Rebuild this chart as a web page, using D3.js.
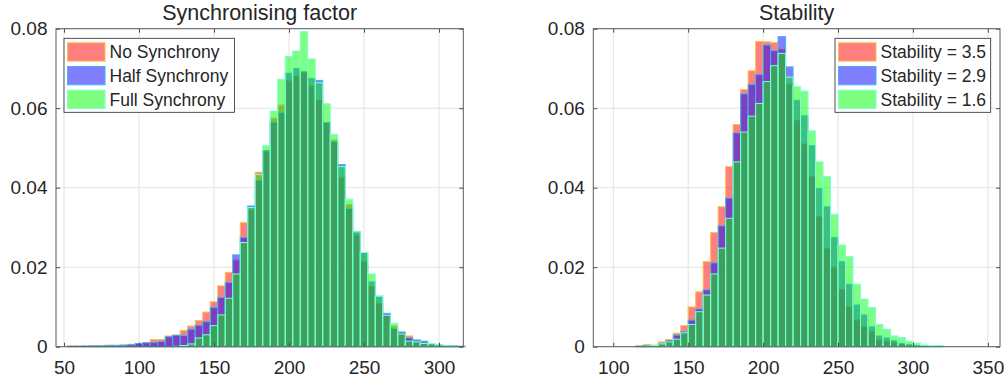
<!DOCTYPE html>
<html lang="en">
<head>
<meta charset="UTF-8">
<title>Histograms</title>
<script src="https://cdn.jsdelivr.net/npm/d3@7"></script>
<style>
  body { margin: 0; background: #fff; }
  text { font-family: "Liberation Sans", Arial, Helvetica, sans-serif; fill: #262626; }
</style>
</head>
<body>
<svg id="chart" width="1006" height="381"></svg>
<script>
// ---- data (probability per 5-unit bin) ----
var syncBinStart = [52.5,57.5,62.5,67.5,72.5,77.5,82.5,87.5,92.5,97.5,102.5,107.5,112.5,117.5,122.5,127.5,132.5,137.5,142.5,147.5,152.5,157.5,162.5,167.5,172.5,177.5,182.5,187.5,192.5,197.5,202.5,207.5,212.5,217.5,222.5,227.5,232.5,237.5,242.5,247.5,252.5,257.5,262.5,267.5,272.5,277.5,282.5,287.5,292.5,297.5,302.5,307.5,312.5];
var noSync   = [.0002,.0002,.0001,.0003,.0002,.0004,.0004,.0004,.0006,.0008,.0010,.0018,.0018,.0027,.0029,.0041,.0052,.0066,.0087,.0113,.0153,.0187,.0218,.0312,.0344,.0439,.0493,.0575,.0608,.0669,.0681,.0690,.0656,.0620,.0564,.0520,.0425,.0358,.0281,.0214,.0151,.0109,.0079,.0052,.0034,.0027,.0012,.0009,.0006,.0004,.0002,.0001,.0001];
var halfSync = [.0001,.0001,.0002,.0002,.0002,.0003,.0003,.0004,.0005,.0008,.0010,.0011,.0013,.0025,.0029,.0028,.0044,.0054,.0063,.0099,.0124,.0162,.0231,.0275,.0354,.0419,.0493,.0565,.0589,.0688,.0700,.0692,.0675,.0670,.0564,.0516,.0458,.0348,.0289,.0237,.0163,.0127,.0084,.0046,.0037,.0022,.0017,.0014,.0006,.0004,.0002,.0002,.0001];
var fullSync = [0,0,0,0,0,0,0,0,0,0,0,0,0,0,.0001,.0003,.0007,.0022,.0030,.0053,.0080,.0122,.0183,.0262,.0350,.0433,.0506,.0593,.0673,.0730,.0744,.0793,.0724,.0664,.0611,.0534,.0453,.0371,.0289,.0237,.0183,.0127,.0079,.0059,.0032,.0014,.0012,.0008,.0008,.0005,.0002,.0001,0];

var stabBinStart = [115,120,125,130,135,140,145,150,155,160,165,170,175,180,185,190,195,200,205,210,215,220,225,230,235,240,245,250,255,260,265,270,275,280,285,290,295,300,305,310,315];
var stab35 = [.0002,.0005,.0004,.0012,.0018,.0034,.0053,.0100,.0138,.0214,.0287,.0352,.0453,.0559,.0647,.0694,.0768,.0767,.0765,.0748,.0661,.0570,.0510,.0428,.0327,.0247,.0200,.0144,.0100,.0067,.0050,.0038,.0017,.0014,.0010,.0008,.0004,.0002,.0001,0,0];
var stab29 = [.0001,.0003,.0003,.0008,.0015,.0029,.0038,.0067,.0095,.0143,.0211,.0304,.0374,.0538,.0636,.0660,.0685,.0759,.0745,.0780,.0704,.0620,.0581,.0506,.0398,.0352,.0275,.0214,.0157,.0105,.0080,.0050,.0027,.0022,.0015,.0008,.0005,.0003,.0002,.0001,.0001];
var stab16 = [0,.0001,.0003,.0007,.0012,.0019,.0035,.0056,.0088,.0130,.0183,.0248,.0323,.0465,.0540,.0580,.0612,.0667,.0707,.0738,.0678,.0654,.0643,.0543,.0465,.0428,.0333,.0256,.0227,.0157,.0120,.0099,.0056,.0044,.0027,.0023,.0013,.0009,.0004,.0002,.0003];

var binWidth = 5;
var syncTicks = [50, 100, 150, 200, 250, 300];
var stabTicks = [100, 150, 200, 250, 300, 350];
var yTicks = [0, 0.02, 0.04, 0.06, 0.08];

var fills = ["#ff0000", "#0000ff", "#00ff00"];
var edges = ["#ffbf40", "#40b0ff", "#7dffdc"];

var svg = d3.select("#chart");
var plotTop = 28.7, plotBottom = 346.7;

function drawPanel(p) {
  var x = d3.scaleLinear().domain(p.xDomain).range([p.left, p.right]);
  var y = d3.scaleLinear().domain([0, 0.08]).range([plotBottom, plotTop]);
  var g = svg.append("g");

  // grid
  g.selectAll(".gx").data(p.xTicks).enter().append("line")
    .attr("x1", function(d) { return x(d); }).attr("x2", function(d) { return x(d); })
    .attr("y1", plotTop).attr("y2", plotBottom)
    .attr("stroke", "#e3e3e3").attr("stroke-width", 1);
  g.selectAll(".gy").data(yTicks).enter().append("line")
    .attr("x1", p.left).attr("x2", p.right)
    .attr("y1", function(d) { return y(d); }).attr("y2", function(d) { return y(d); })
    .attr("stroke", "#e3e3e3").attr("stroke-width", 1);

  // bars, one series after the other
  p.series.forEach(function(vals, i) {
    g.append("g").selectAll("rect")
      .data(p.bins.map(function(b, j) { return { x0: b, v: vals[j] }; }))
      .enter().append("rect")
        .attr("x", function(d) { return x(d.x0); })
        .attr("width", function(d) { return x(d.x0 + binWidth) - x(d.x0); })
        .attr("y", function(d) { return y(d.v); })
        .attr("height", function(d) { return y(0) - y(d.v); })
        .attr("fill", fills[i]).attr("fill-opacity", 0.5)
        .attr("stroke", edges[i]).attr("stroke-width", 1);
  });

  // axes with inward ticks
  var fmt = function(d) { return d === 0 ? "0" : d3.format(".2f")(d); };
  g.append("g").attr("transform", "translate(0," + plotBottom + ")")
    .call(d3.axisBottom(x).tickValues(p.xTicks).tickSize(-4).tickPadding(14))
    .call(function(a) { a.select(".domain").remove(); });
  g.append("g").attr("transform", "translate(0," + plotTop + ")")
    .call(d3.axisTop(x).tickValues(p.xTicks).tickSize(-4).tickFormat(""))
    .call(function(a) { a.select(".domain").remove(); });
  g.append("g").attr("transform", "translate(" + p.left + ",0)")
    .call(d3.axisLeft(y).tickValues(yTicks).tickSize(-4).tickPadding(8.5).tickFormat(fmt))
    .call(function(a) { a.select(".domain").remove(); });
  g.append("g").attr("transform", "translate(" + p.right + ",0)")
    .call(d3.axisRight(y).tickValues(yTicks).tickSize(-4).tickFormat(""))
    .call(function(a) { a.select(".domain").remove(); });
  g.selectAll(".tick line").attr("stroke", "#4d4d4d");
  g.selectAll(".tick text").style("font-size", "19px").attr("fill", "#262626");

  g.append("rect").attr("x", p.left).attr("y", plotTop)
    .attr("width", p.right - p.left).attr("height", plotBottom - plotTop)
    .attr("fill", "none").attr("stroke", "#5a5a5a").attr("stroke-width", 1);

  g.append("text").attr("x", (p.left + p.right) / 2).attr("y", 19.5)
    .attr("text-anchor", "middle").style("font-size", "21.5px").text(p.title);

  // legend
  var lg = g.append("g").attr("transform", "translate(" + p.legend[0] + "," + p.legend[1] + ")");
  lg.append("rect").attr("width", p.legend[2]).attr("height", 74)
    .attr("fill", "#fff").attr("stroke", "#262626").attr("stroke-width", 0.8);
  p.names.forEach(function(n, i) {
    var row = lg.append("g").attr("transform", "translate(3.5," + (4.5 + i * 23.7) + ")");
    row.append("rect").attr("width", 37.5).attr("height", 18.3)
      .attr("fill", fills[i]).attr("fill-opacity", 0.5)
      .attr("stroke", edges[i]).attr("stroke-width", 1);
    row.append("text").attr("x", 42).attr("y", 9.5).attr("dy", "0.35em")
      .style("font-size", "17.5px").text(n);
  });
}

drawPanel({
  title: "Synchronising factor",
  left: 56, right: 463.3, xDomain: [44.67, 316.2], xTicks: syncTicks,
  bins: syncBinStart, series: [noSync, halfSync, fullSync],
  names: ["No Synchrony", "Half Synchrony", "Full Synchrony"],
  legend: [64, 38.3, 170.5]
});
drawPanel({
  title: "Stability",
  left: 593.3, right: 1000, xDomain: [86.67, 358.1], xTicks: stabTicks,
  bins: stabBinStart, series: [stab35, stab29, stab16],
  names: ["Stability = 3.5", "Stability = 2.9", "Stability = 1.6"],
  legend: [835, 38.3, 155.7]
});
</script>
</body>
</html>
